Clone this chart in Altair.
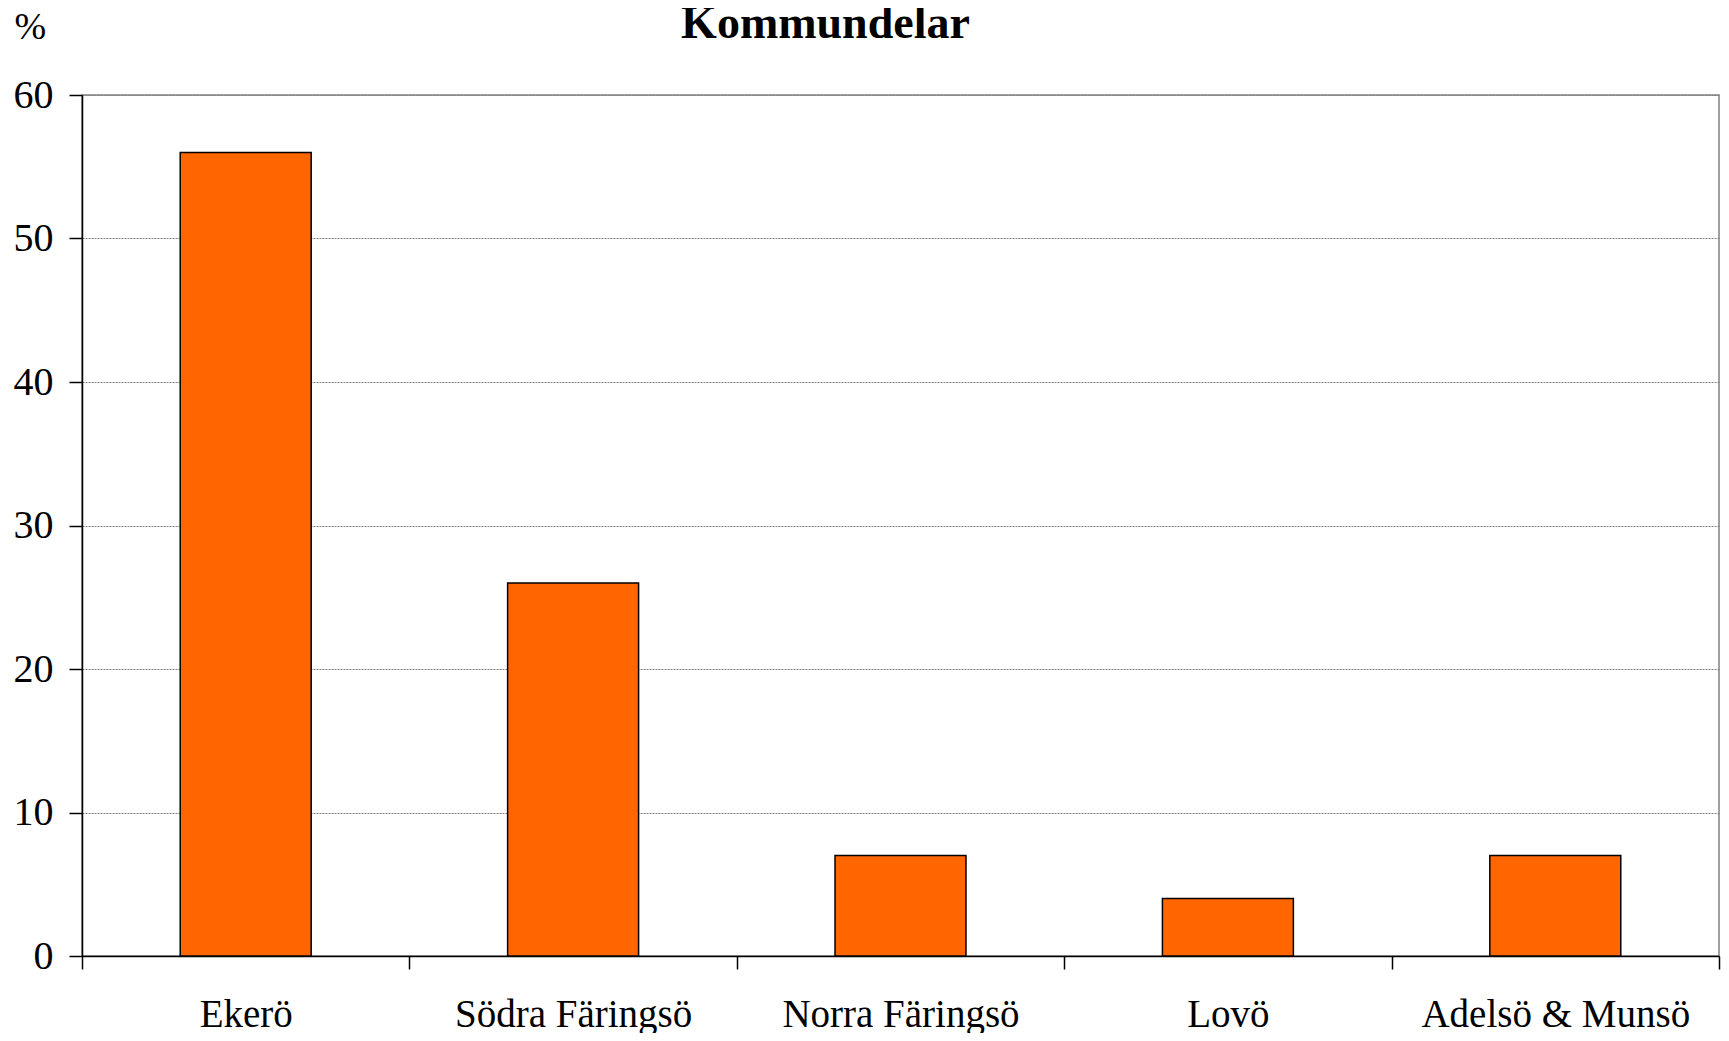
import altair as alt
import pandas as pd

categories = ["Ekerö", "Södra Färingsö", "Norra Färingsö", "Lovö", "Adelsö & Munsö"]
values = [56, 26, 7, 4, 7]

df = pd.DataFrame({"kommundel": categories, "procent": values})

FONT = "Liberation Serif"

chart = (
    alt.Chart(df)
    .mark_bar(color="#FF6600", stroke="black", strokeWidth=1.5, width={"band": 0.4})
    .encode(
        x=alt.X(
            "kommundel:N",
            sort=categories,
            scale=alt.Scale(paddingInner=0, paddingOuter=0),
            axis=alt.Axis(
                title=None,
                labelAngle=0,
                labelFont=FONT,
                labelFontSize=39,
                labelColor="black",
                labelPadding=26,
                labelLimit=0,
                tickBand="extent",
                tickColor="black",
                tickSize=13,
                tickWidth=1.5,
                domainColor="black",
                domainWidth=1.5,
                grid=False,
            ),
        ),
        y=alt.Y(
            "procent:Q",
            scale=alt.Scale(domain=[0, 60]),
            axis=alt.Axis(
                title="%",
                titleAngle=0,
                titleAlign="left",
                titleBaseline="alphabetic",
                titleX=-68,
                titleY=-57,
                titleFont=FONT,
                titleFontSize=38,
                titleFontWeight="normal",
                titleColor="black",
                values=[0, 10, 20, 30, 40, 50, 60],
                labelFont=FONT,
                labelFontSize=40,
                labelColor="black",
                labelPadding=16,
                tickColor="black",
                tickSize=13,
                tickWidth=1.5,
                domainColor="black",
                domainWidth=1.5,
                grid=True,
                gridColor="#808080",
                gridDash=[2, 1],
                gridWidth=1,
            ),
        ),
    )
    .properties(
        width=1637,
        height=861,
        title=alt.TitleParams(
            text="Kommundelar",
            font=FONT,
            fontSize=46,
            fontWeight="bold",
            color="black",
            anchor="middle",
            baseline="alphabetic",
            dx=-75,
            offset=-76,
        ),
        autosize=alt.AutoSizeParams(type="none"),
        padding={"left": 74, "top": 87, "right": 2, "bottom": 77},
    )
    .configure_view(stroke="#808080", strokeWidth=1.5)
)

chart.save("out.html", embed_options={"renderer": "svg", "actions": False})
